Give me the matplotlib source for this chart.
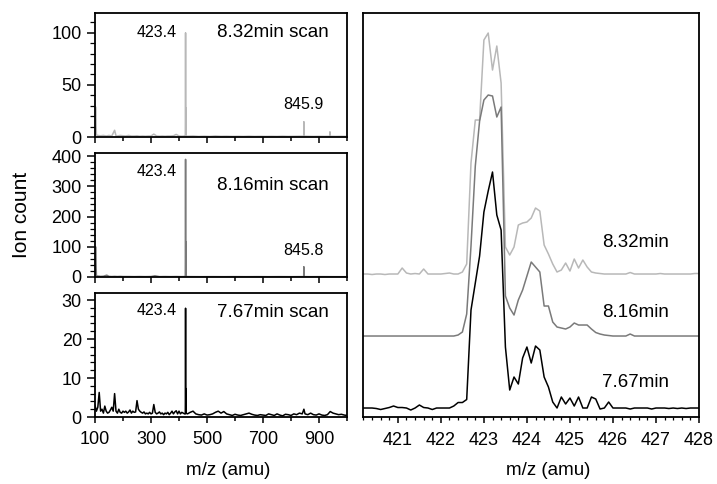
"""
Mass spectra at three scan times, full range and zoom on the 423.4 peak
"""

import numpy as np
import matplotlib
matplotlib.use('Agg')
import matplotlib.pyplot as plt
from matplotlib.ticker import MultipleLocator

plt.rcParams['font.family'] = ['Liberation Sans', 'DejaVu Sans']

# ---- full-range spectra (m/z, ion count) ----
mz_832 = [100, 102, 105, 110, 120, 130, 140, 150, 160, 170, 175, 180, 190, 200,
          210, 220, 230, 240, 250, 260, 270, 280, 290, 300, 310, 320, 330,
          340, 350, 360, 370, 380, 390, 400, 410, 420, 422.9, 423.4, 423.9,
          424.4, 424.9, 430, 450, 470, 490, 510, 530, 550, 570, 590, 610,
          630, 650, 670, 690, 710, 730, 750, 770, 790, 810, 830, 845.4,
          845.9, 846.4, 860, 880, 900, 920, 938.5, 939, 939.5, 960, 980, 1000]
int_832 = [2, 29, 2, 1.5, 1.2, 1.5, 1, 1.5, 1, 6.5, 1.2, 1, 1.5, 1.2,
           1, 1.5, 1, 1, 1.2, 0.8, 1, 0.8, 1, 1, 2.8, 1, 0.8,
           1, 0.8, 1, 1, 1.2, 2.5, 1, 0.8, 1, 1, 100, 1,
           28, 1, 0.8, 1, 0.6, 0.8, 0.6, 1, 0.7, 0.8, 0.6, 0.7,
           0.6, 0.8, 0.6, 0.7, 0.6, 0.7, 0.6, 0.8, 0.6, 0.7, 0.8, 0.8,
           14.7, 0.8, 0.7, 0.6, 0.7, 0.6, 0.7, 5, 0.7, 0.6, 0.7, 0.6]

mz_816 = [100, 102, 105, 110, 120, 130, 142, 150, 160, 170, 180, 190, 200, 220,
          240, 260, 280, 300, 314, 330, 350, 370, 390, 410, 422.9, 423.4,
          423.9, 424.4, 424.9, 440, 480, 520, 560, 600, 640, 680, 720, 760,
          800, 830, 845.3, 845.8, 846.3, 870, 910, 950, 1000]
int_816 = [5, 100, 4, 3, 2, 2.5, 6, 2, 1.5, 2, 1.5, 2, 1.5, 1.5,
           1.2, 1.5, 1.2, 1.5, 4, 1.2, 1.5, 1.2, 1.5, 1.2, 1.5, 389,
           1.5, 117, 1.5, 1.2, 1, 1.2, 1, 1.2, 1, 1.2, 1, 1.2,
           1, 1.2, 1.2, 34, 1.2, 1, 1.2, 1, 1]

mz_767 = [100, 105, 110, 115, 120, 125, 130, 135, 140, 145, 150, 155, 160,
          165, 170, 175, 180, 185, 190, 195, 200, 205, 210, 215, 220, 225,
          230, 235, 240, 245, 250, 255, 260, 265, 270, 275, 280, 285, 290,
          295, 300, 305, 310, 315, 320, 325, 330, 335, 340, 345, 350, 355,
          360, 365, 370, 375, 380, 385, 390, 395, 400, 405, 410, 415, 420,
          422.9, 423.4, 423.9, 424.4, 424.9, 430,
          440, 450, 460, 470, 480, 490, 500, 510, 520, 530, 540, 550, 560,
          570, 580, 590, 600, 610, 620, 630, 640, 650, 660, 670, 680, 690,
          700, 710, 720, 730, 740, 750, 760, 770, 780, 790, 800, 810, 820,
          830, 840, 846, 850, 860, 870, 880, 890, 900, 910, 920, 930, 940,
          950, 960, 970, 980, 990, 1000]
int_767 = [3, 1.5, 2.5, 6.3, 1.5, 2, 1, 2.8, 1.5, 1, 1.2, 1.8, 2.5,
           1.5, 6, 1.5, 1, 2, 1.2, 1, 1.5, 1.2, 1.5, 1, 1.3, 1.8,
           1, 1.5, 1.2, 1.3, 4.2, 2, 1.5, 1.2, 1, 1.3, 0.8, 1, 0.8,
           1.2, 0.8, 1, 3.2, 1.2, 0.8, 1, 1.3, 0.8, 1, 0.6, 1, 0.8,
           1.2, 0.6, 1, 1.5, 0.8, 1.3, 1.6, 0.8, 1.5, 0.8, 1.2, 1, 0.8,
           0.8, 27.9, 1, 7.3, 1, 0.8,
           1.2, 1.5, 0.8, 0.6, 0.5, 0.8, 0.5, 0.6, 0.8, 1.2, 1.5, 1, 1.4,
           0.8, 0.6, 0.4, 0.7, 0.5, 0.4, 0.6, 0.8, 1, 0.7, 0.5, 0.4, 0.6,
           0.5, 0.4, 0.8, 0.6, 0.4, 0.8, 0.5, 0.3, 0.7, 0.6, 0.4, 0.8, 0.6,
           1, 0.8, 2, 0.8, 0.6, 1, 0.6, 0.5, 0.8, 0.5, 0.4, 0.6, 1.4,
           1, 0.8, 0.6, 0.7, 0.5, 0.4]

# ---- zoom on the 423.4 peak (relative intensity, 0.1 amu steps) ----
mz_zoom = np.round(np.arange(420.2, 428.05, 0.1), 1)
zoom_767 = [0, 0, 0, -0.5, -1.5, -0.5, 0.5, 2, 0.5, 0.5,
            0, -2, 0, 3, 0.5, 0, -1.5, 0, 0, 0,
            0, 2, 5.5, 5.5, 8.5, 98, 125, 152, 196, 217,
            236, 193, 178, 61, 18, 31, 24, 50, 61, 45,
            62, 58, 31, 21, 6, 0, 11, 4, 10, 2,
            11, 0, 0, 11, 9, -1, 0, 6, 0, 0,
            0, 0, -1, 0, 0, 0, 0, -1, 0, 0,
            0, -0.5, 0, -0.5, 0, -0.5, 0, 0, 0]
zoom_816 = [0, 0, 0, 0, 0, 0, 0, 0, 0, 0,
            0, 0, 0, 0, 0, 0, 0, 0, 0, 0,
            0, 0, 1, 4, 22, 90, 170, 215, 236, 241,
            240, 219, 229, 40, 28, 21, 36, 46, 60, 74,
            69, 64, 30, 30, 14, 9, 8, 7, 9, 13,
            11, 11, 11, 7, 3.5, 2, 1, 0.5, 0, 0,
            0, 0, 2, 0, 0, 0, 0, 0, 0, 0,
            0, 0, 0, 0, 0, 0, 0, 0, 0]
zoom_832 = [0, 0, -0.5, 0, 0, -0.5, 0, 0, 0, 6,
            1, 0, 0.5, 0, 5, 0, 0, 0, 0, 0.5,
            1, 0, 0, 2, 10, 111, 154, 154, 234, 241,
            204, 228, 191, 27, 19, 27, 49, 51, 52, 56,
            66, 63, 29, 20, 10, 2, 4, 11, 3, 15,
            6, 14, 7, 2, 1, 0.5, 0, 0, 0, 0,
            0, 0, 1.5, 0, 0, 0, 0, 0, 0, 0.5,
            0, 0, 0, 0, 0, 0, 0, 0.5, 0.5]

scan_names = ['8.32min', '8.16min', '7.67min']
colors = ['#b8b8b8', '#7a7a7a', 'black']
offsets = [143, 81, 9]

fig = plt.figure(figsize=(7.17, 4.84), dpi=100)

ax_top = fig.add_axes([0.1325, 0.7169, 0.3515, 0.2562])
ax_mid = fig.add_axes([0.1325, 0.4277, 0.3515, 0.2562])
ax_bot = fig.add_axes([0.1325, 0.1384, 0.3515, 0.2562])
ax_zoom = fig.add_axes([0.5063, 0.1384, 0.4686, 0.8347])

left_axes = [ax_top, ax_mid, ax_bot]
spectra = [(mz_832, int_832), (mz_816, int_816), (mz_767, int_767)]
ylims = [119, 410, 31.8]
majors = [50, 100, 10]
minors = [10, 20, 2]
peak_label_y = [100, 350, 27.4]
scan_label_y = [0.84, 0.736, 0.841]

for i, ax in enumerate(left_axes):
    mz, inten = spectra[i]
    ax.plot(mz, inten, color=colors[i], lw=1.1)
    ax.set_xlim(100, 1000)
    ax.set_ylim(0, ylims[i])
    ax.set_xticks([100, 300, 500, 700, 900])
    ax.xaxis.set_minor_locator(MultipleLocator(100))
    ax.yaxis.set_major_locator(MultipleLocator(majors[i]))
    ax.yaxis.set_minor_locator(MultipleLocator(minors[i]))
    ax.tick_params(axis='x', which='major', direction='out', length=4,
                   width=1.1, labelsize=13, pad=6)
    ax.tick_params(axis='x', which='minor', direction='out', length=3, width=1.1)
    ax.tick_params(axis='y', which='major', direction='out', length=5.5,
                   width=1.1, labelsize=13, pad=4)
    ax.tick_params(axis='y', which='minor', direction='out', length=3.5, width=0.9)
    for s in ax.spines.values():
        s.set_linewidth(1.3)
    ax.text(393, peak_label_y[i], '423.4', ha='right', va='center', fontsize=11.5)
    ax.text(0.926, scan_label_y[i], scan_names[i] + ' scan', ha='right',
            va='center', fontsize=13.5, transform=ax.transAxes)
    if i < 2:
        ax.tick_params(axis='x', labelbottom=False)
    ax.set_xlim(100, 1000)

ax_top.text(845, 31, '845.9', ha='center', va='center', fontsize=11.5)
ax_mid.text(845, 89, '845.8', ha='center', va='center', fontsize=11.5)

ax_bot.set_xlabel('m/z (amu)', fontsize=13.5)
ax_bot.xaxis.set_label_coords(0.528, -0.36)

fig.text(0.030, 0.556, 'Ion count', rotation=90, ha='center', va='center',
         fontsize=15)

# zoomed overlay
zoom_sets = [zoom_832, zoom_816, zoom_767]
for i in range(3):
    y = np.array(zoom_sets[i]) + offsets[i]
    ax_zoom.plot(mz_zoom, y, color=colors[i], lw=1.1)

ax_zoom.set_xlim(420.19, 428)
ax_zoom.set_ylim(0, 404)
ax_zoom.set_xticks(range(421, 429))
ax_zoom.xaxis.set_minor_locator(MultipleLocator(0.2))
ax_zoom.tick_params(axis='x', which='major', direction='out', length=4.5,
                    width=1.1, labelsize=13, pad=6)
ax_zoom.tick_params(axis='x', which='minor', direction='out', length=2.5,
                    width=0.9)
ax_zoom.set_yticks([])
for s in ax_zoom.spines.values():
    s.set_linewidth(1.3)

label_y = [175, 105, 35]
for i in range(3):
    ax_zoom.text(427.3, label_y[i], scan_names[i], ha='right', va='center',
                 fontsize=13.5)

ax_zoom.set_xlabel('m/z (amu)', fontsize=13.5)
ax_zoom.xaxis.set_label_coords(0.55, -0.111)

fig.savefig('out.png', dpi=100)
